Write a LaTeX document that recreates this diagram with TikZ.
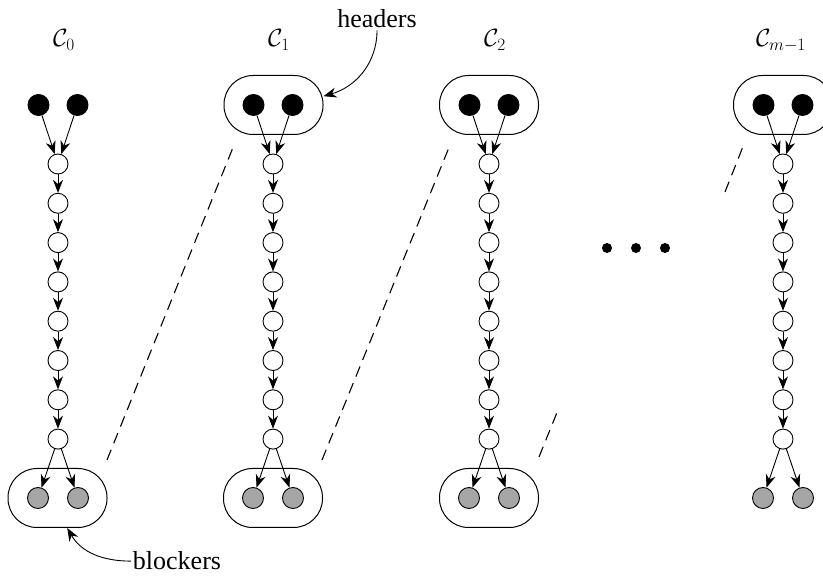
\documentclass[tikz,border=0pt]{standalone}
\usepackage{fontspec}
\setmainfont{Liberation Serif}
\usetikzlibrary{arrows.meta,positioning}

\begin{document}
\begin{tikzpicture}[
    x=1pt, y=1pt,
    font=\fontsize{26}{30}\selectfont,
    vert/.style={draw, circle, minimum size=20pt, inner sep=0pt, line width=0.9pt, fill=white},
    header/.style={vert, fill=black, minimum size=21pt},
    blocker/.style={vert, fill=gray!70, minimum size=21pt},
    pill/.style={draw, rounded corners=29pt, minimum width=99pt, minimum height=59pt, line width=1pt},
    dot/.style={circle, fill=black, minimum size=10pt, inner sep=0pt},
    arrow/.style={-{Stealth[length=13pt,width=10pt]}, line width=0.9pt},
    link/.style={line width=1.1pt, dash pattern=on 11pt off 7pt},
    tag/.style={inner sep=2pt}
]
\useasboundingbox (0,0) rectangle (823,576);

% one column per component: headers on top, a path of 8 vertices, blockers below
\foreach \c/\x in {0/58, 1/273, 2/489, 3/783} {
  \node[header] (hl-\c) at (\x-19.5,471) {};
  \node[header] (hr-\c) at (\x+19.5,471) {};
  \foreach \i in {1,...,8}
    \node[vert] (v\c-\i) at (\x,{412-39.3*(\i-1)}) {};
  \node[blocker] (bl-\c) at (\x-20,78) {};
  \node[blocker] (br-\c) at (\x+20,78) {};
  \draw[arrow] (hl-\c) -- (v\c-1);
  \draw[arrow] (hr-\c) -- (v\c-1);
  \foreach \i [evaluate=\i as \j using int(\i+1)] in {1,...,7}
    \draw[arrow] (v\c-\i) -- (v\c-\j);
  \draw[arrow] (v\c-8) -- (bl-\c);
  \draw[arrow] (v\c-8) -- (br-\c);
}

\node[tag, anchor=base] (lab0) at (64,529) {$\mathcal{C}_0$};
\node[tag, anchor=base] (lab1) at (279,529) {$\mathcal{C}_1$};
\node[tag, anchor=base] (lab2) at (495,529) {$\mathcal{C}_2$};
\node[tag, anchor=base] (lab3) at (781,529) {$\mathcal{C}_{m-1}$};

% groups around headers and blockers
\node[pill] (hp-1) at (273.5,471) {};
\node[pill] (hp-2) at (489,471) {};
\node[pill] (hp-3) at (783,471) {};
\node[pill] (bp-0) at (57.5,78) {};
\node[pill] (bp-1) at (273,78) {};
\node[pill] (bp-2) at (489,78) {};

% dashed links between neighbouring components
\coordinate (d1a) at (107,116);
\coordinate (d1b) at (234,431);
\coordinate (d2a) at (322,116);
\coordinate (d2b) at (450,431);
\coordinate (d3a) at (539,119);
\coordinate (d3b) at (558,166);
\coordinate (d4a) at (725,384);
\coordinate (d4b) at (744,432);
\draw[link] (d1a) -- (d1b);
\draw[link] (d2a) -- (d2b);
\draw[link] (d3a) -- (d3b);
\draw[link] (d4a) -- (d4b);

\node[dot] (e1) at (607,328) {};
\node[dot] (e2) at (636,328) {};
\node[dot] (e3) at (665,328) {};

\node[tag, anchor=base] (hdr) at (377,548) {headers};
\node[tag, anchor=base] (blk) at (177,6) {blockers};
\draw[arrow] (hdr.south) to[out=-90, in=16] (hp-1.10);
\draw[arrow] (blk.west) to[out=180, in=-60] (bp-0.-72);
\end{tikzpicture}
\end{document}
